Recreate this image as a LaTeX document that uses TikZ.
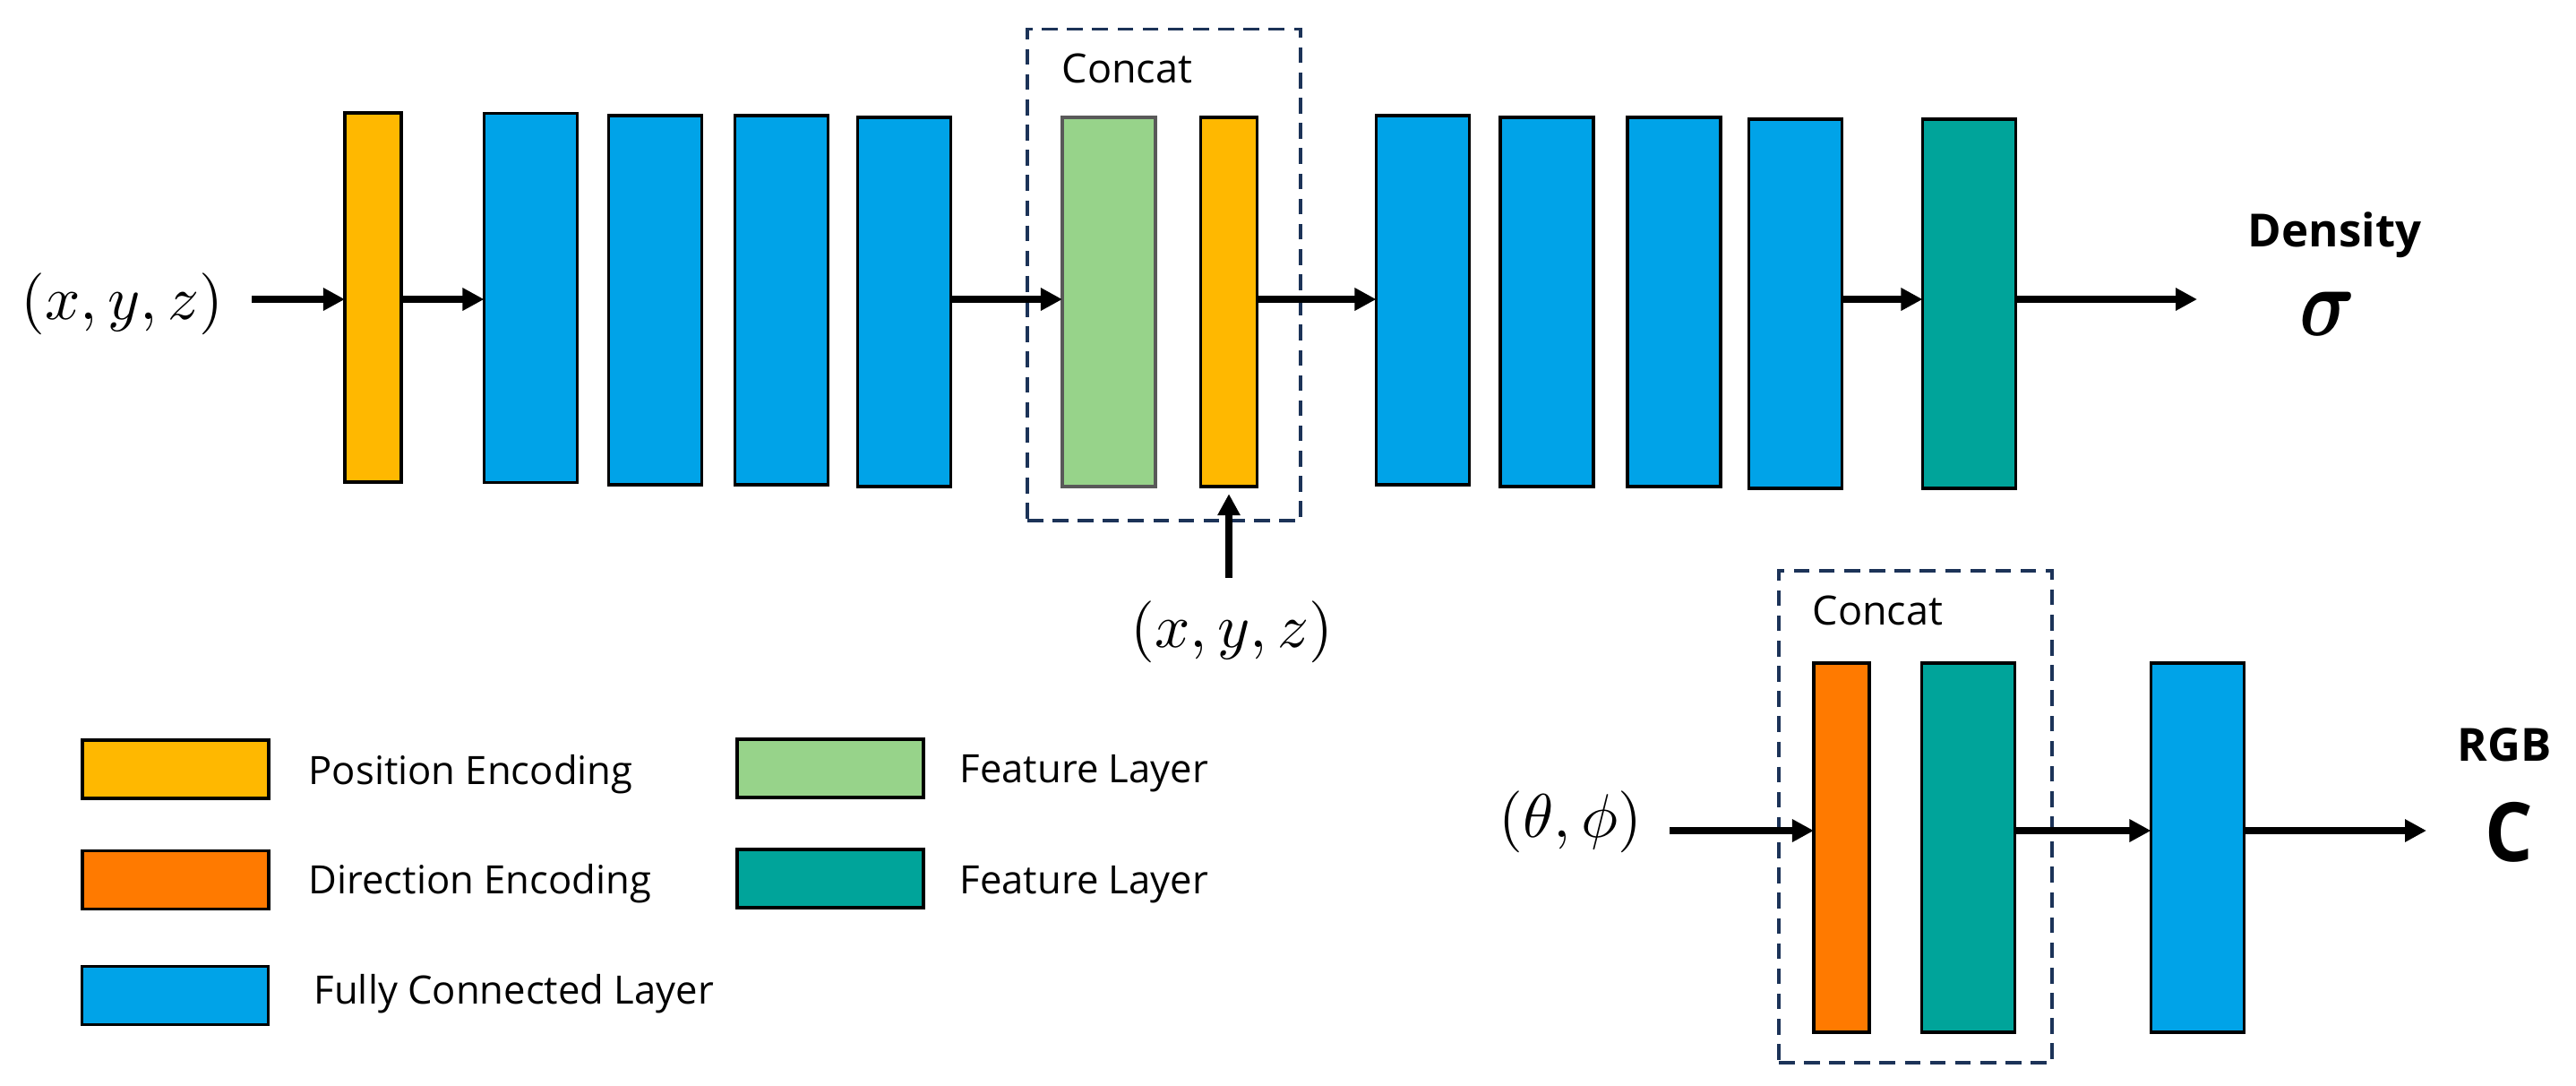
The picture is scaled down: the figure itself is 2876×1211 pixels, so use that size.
\documentclass[tikz,border=0pt]{standalone}
\usepackage{amsmath}
\usepackage{graphicx}
\usepackage[no-math]{fontspec}
\setmainfont{Open Sans}
\usetikzlibrary{arrows.meta}
\definecolor{cyel}{HTML}{FFB800}
\definecolor{cblue}{HTML}{00A3E8}
\definecolor{cgreen}{HTML}{97D38A}
\definecolor{cteal}{HTML}{00A49A}
\definecolor{corange}{HTML}{FF7A00}
\definecolor{cnavy}{HTML}{1C3358}
\begin{document}
\begin{tikzpicture}[x=0.01cm,y=-0.01cm,
  layer/.style={draw=black, line width=0.95pt, minimum height=4.12cm, inner sep=0pt, outer sep=0pt},
  poslayer/.style={layer, fill=cyel, minimum width=0.63cm},
  fclayer/.style={layer, fill=cblue, minimum width=1.04cm},
  featlayer/.style={layer, fill=cgreen, draw=black!65, minimum width=1.04cm},
  tealayer/.style={layer, fill=cteal, minimum width=1.04cm},
  dirlayer/.style={layer, fill=corange, minimum width=0.62cm},
  legbox/.style={draw=black, line width=1pt, minimum width=2.08cm, minimum height=0.65cm, inner sep=0pt},
  arr/.style={line width=2.1pt, -{Triangle[length=0.24cm,width=0.24cm]}},
  concatbox/.style={draw=cnavy, line width=1pt, dash pattern=on 5pt off 3pt, inner sep=0pt},
  lbl/.style={inner sep=0pt, anchor=base west},
  legtext/.style={lbl, font=\fontsize{12.4}{14}\selectfont},
  cattext/.style={lbl, font=\fontsize{12.8}{14}\selectfont},
  boldtext/.style={lbl, font=\fontsize{14.5}{16}\selectfont\bfseries},
  mathtext/.style={lbl}
]
\fill[white] (0,0) rectangle (2876,1211);
\useasboundingbox (0,0) rectangle (2876,1211);

% concat boxes
\node[concatbox, minimum width=3.05cm, minimum height=5.485cm] (cc1) at (1299.5,306.75) {};
\node[concatbox, minimum width=3.05cm, minimum height=5.49cm] (cc2) at (2138.5,911.5) {};
\node[cattext] (ct1) at (1185,92) {Concat};
\node[cattext] (ct2) at (2023,697) {Concat};

% top row
\node[poslayer] (y1) at (416.5,332) {};
\node[fclayer] (b1) at (592.5,332.5) {};
\node[fclayer] (b2) at (731.5,335) {};
\node[fclayer] (b3) at (872.5,335) {};
\node[fclayer] (b4) at (1009.5,337) {};
\node[featlayer] (g1) at (1238,337) {};
\node[poslayer] (y2) at (1372,337) {};
\node[fclayer] (b5) at (1588.5,335) {};
\node[fclayer] (b6) at (1727,337) {};
\node[fclayer] (b7) at (1869,337) {};
\node[fclayer] (b8) at (2004.5,339) {};
\node[tealayer] (t1) at (2198.5,339) {};

% bottom row
\node[dirlayer] (o1) at (2056,946) {};
\node[tealayer] (t2) at (2197.5,946) {};
\node[fclayer] (b9) at (2453.5,946) {};

% texts
\node[mathtext] (in1) at (23,356) {\scalebox{1.96}{$(x,y,z)$}};
\node[mathtext] (in2) at (1262,722) {\scalebox{1.96}{$(x,y,z)$}};
\node[mathtext] (in3) at (1673,934) {\scalebox{1.96}{$(\theta,\phi)$}};
\node[boldtext] (dens) at (2509,275) {Density};
\node[lbl] (sig) at (2567,374) {\scalebox{2.45}[3.1]{$\boldsymbol{\sigma}$}};
\node[boldtext] (rgb) at (2743,849) {RGB};
\node[lbl, font=\fontsize{26}{30}\selectfont\bfseries] (colc) at (2774,961) {\scalebox{0.92}[1]{C}};

% arrows
\coordinate (rowA) at (0,334);
\coordinate (rowB) at (0,927);
\coordinate (dout) at (2453,334);
\coordinate (cout) at (2709,927);
\draw[arr, shorten <=0.31cm] (in1.east |- rowA) -- (y1.west |- rowA);
\draw[arr] (y1.east |- rowA) -- (b1.west |- rowA);
\draw[arr] (b4.east |- rowA) -- (g1.west |- rowA);
\draw[arr] (y2.east |- rowA) -- (b5.west |- rowA);
\draw[arr] (b8.east |- rowA) -- (t1.west |- rowA);
\draw[arr] (t1.east |- rowA) -- (dout);
\draw[arr, shorten <=0.25cm, shorten >=0.08cm] (in2.north -| y2.south) -- (y2.south);
\draw[arr, shorten <=0.3cm] (in3.east |- rowB) -- (o1.west |- rowB);
\draw[arr] (t2.east |- rowB) -- (b9.west |- rowB);
\draw[arr] (b9.east |- rowB) -- (cout);

% legend
\node[legbox, fill=cyel] (lg1) at (196,858.5) {};
\node[legbox, fill=corange] (lg2) at (196,982) {};
\node[legbox, fill=cblue] (lg3) at (195.5,1111) {};
\node[legbox, fill=cgreen] (lg4) at (927,857.5) {};
\node[legbox, fill=cteal] (lg5) at (927,980.5) {};
\node[legtext] (lt1) at (344,875) {Position Encoding};
\node[legtext] (lt2) at (344,997) {Direction Encoding};
\node[legtext] (lt3) at (350,1120) {Fully Connected Layer};
\node[legtext] (lt4) at (1071,873) {Feature Layer};
\node[legtext] (lt5) at (1071,997) {Feature Layer};
\end{tikzpicture}
\end{document}
